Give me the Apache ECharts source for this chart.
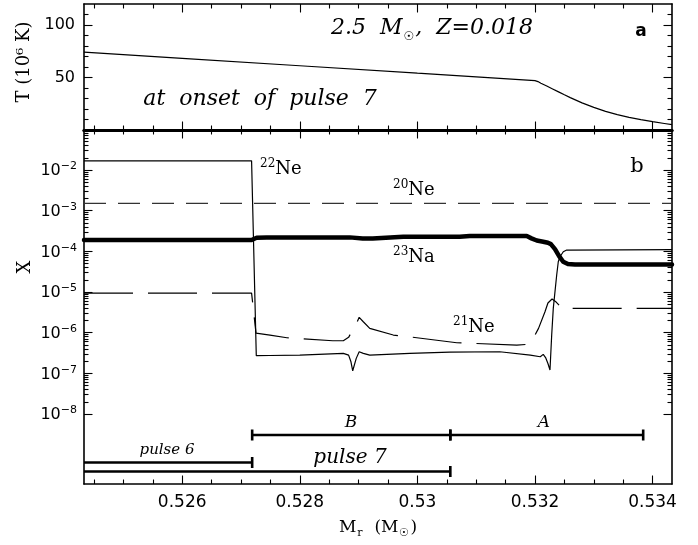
<!DOCTYPE html>
<html>
<head>
<meta charset="utf-8">
<script src="https://cdn.jsdelivr.net/npm/echarts@6.0.0/dist/echarts.min.js"></script>
<style>
html, body { margin: 0; padding: 0; background: #fff; }
#chart { width: 698px; height: 545px; }
</style>
</head>
<body>
<div id="chart"></div>
<script>
// Axis ranges
const massRange = [0.52433, 0.53433];
const tempRange = [0, 120];
const logXRange = [-9.72, -1.015];

// Tick positions
const massMajorTicks = [0.526, 0.528, 0.530, 0.532, 0.534];
const massMinorTicks = [0.5245, 0.525, 0.5255, 0.5265, 0.527, 0.5275, 0.5285, 0.529, 0.5295,
                        0.5305, 0.531, 0.5315, 0.5325, 0.533, 0.5335];
const tempMajorTicks = [50, 100];
const tempMinorTicks = [10, 20, 30, 40, 60, 70, 80, 90, 110];
const decadeExps = [-8, -7, -6, -5, -4, -3, -2];

// Panel a: temperature at the onset of pulse 7 (10^6 K)
const tMass = [0.52433, 0.5260, 0.5280, 0.5300, 0.5310, 0.5318, 0.5320, 0.53205, 0.5321, 0.5322,
               0.5323, 0.5324, 0.5325, 0.5326, 0.5328, 0.5330, 0.5332, 0.5334, 0.5336, 0.5338,
               0.5340, 0.5342, 0.53433];
const tValue = [74.1, 68.2, 61.2, 54.1, 50.6, 47.8, 47.0, 46.1, 44.6, 41.9,
                39.1, 36.3, 33.5, 30.8, 25.8, 21.5, 17.8, 14.6, 12.0, 9.8,
                7.9, 6.2, 5.1];

// Panel b: mass fractions
const ne22Mass = [0.52433, 0.52718, 0.52726, 0.52749, 0.52800, 0.52874, 0.52883, 0.52887, 0.52890,
                  0.52892, 0.52896, 0.52901, 0.52908, 0.52919, 0.52987, 0.53055, 0.53140, 0.53192,
                  0.53209, 0.53214, 0.53218, 0.53222, 0.532255, 0.532284, 0.532311, 0.532369,
                  0.532396, 0.532425, 0.532481, 0.532539, 0.53433];
const ne22X = [0.0169, 0.0169, 2.72e-7, 2.75e-7, 2.82e-7, 3.11e-7, 2.82e-7, 1.93e-7, 1.16e-7,
               1.21e-7, 2.34e-7, 3.40e-7, 3.11e-7, 2.82e-7, 3.11e-7, 3.35e-7, 3.40e-7, 2.82e-7,
               2.57e-7, 2.94e-7, 2.45e-7, 1.75e-7, 1.21e-7, 8.77e-7, 3.97e-6, 2.62e-5,
               5.56e-5, 7.38e-5, 9.8e-5, 1.08e-4, 1.10e-4];

const ne20Mass = [0.52433, 0.53433];
const ne20X = [1.52e-3, 1.52e-3];

const na23Mass = [0.52433, 0.52718, 0.527266, 0.527437, 0.52885, 0.52907, 0.52924, 0.52976, 0.53072,
                  0.53089, 0.53186, 0.53194, 0.53203, 0.53214, 0.53222, 0.53227, 0.53234, 0.53241,
                  0.53248, 0.53256, 0.53268, 0.53433];
const na23X = [1.90e-4, 1.90e-4, 2.16e-4, 2.21e-4, 2.21e-4, 2.07e-4, 2.08e-4, 2.29e-4, 2.29e-4,
               2.38e-4, 2.38e-4, 2.09e-4, 1.85e-4, 1.73e-4, 1.63e-4, 1.51e-4, 1.14e-4, 7.67e-5,
               5.56e-5, 4.89e-5, 4.74e-5, 4.74e-5];

const ne21Mass = [0.52433, 0.52718, 0.527255, 0.527493, 0.52778, 0.52856, 0.52874, 0.52883, 0.52889,
                  0.52896, 0.52901, 0.52908, 0.52919, 0.52959, 0.52985, 0.53067, 0.53169, 0.53188,
                  0.53195, 0.53206, 0.53217, 0.53222, 0.53229, 0.53236, 0.53246, 0.53433];
const ne21X = [9.44e-6, 9.44e-6, 9.77e-7, 8.77e-7, 7.53e-7, 6.35e-7, 6.35e-7, 7.7e-7, 1.1e-6,
               1.63e-6, 2.39e-6, 1.86e-6, 1.28e-6, 8.77e-7, 7.96e-7, 5.67e-7, 4.98e-7, 5.18e-7,
               6.41e-7, 1.28e-6, 3.28e-6, 5.37e-6, 6.73e-6, 5.68e-6, 3.97e-6, 3.97e-6];

// Mass intervals marked under panel b
const phaseNames = ['B', 'A', 'pulse 6', 'pulse 7'];
const phaseFrom = [0.52719, 0.53056, 0.5240, 0.5240];
const phaseTo = [0.53056, 0.53384, 0.52719, 0.53056];

// ---------------------------------------------------------------------------
const SANS = 'DejaVu Sans';
const SERIF = 'DejaVu Serif';
const INK = '#000';
const PLOT_LEFT = 84, PLOT_WIDTH = 588;
const TOP_Y = 4, MID_Y = 130, BOTTOM_Y = 484;

const logMinorTicks = [];
decadeExps.forEach(n => {
  for (let k = 2; k <= 9; k++) logMinorTicks.push(n + Math.log10(k));
});

function pairs(xs, ys, transform) {
  return xs.map((x, i) => [x, transform ? transform(ys[i]) : ys[i]]);
}

function tickAxis(base, opts) {
  return Object.assign({
    type: 'value',
    scale: true,
    splitLine: { show: false },
    axisLine: { show: opts.line > 0, onZero: false, lineStyle: { color: INK, width: opts.line || 1 } },
    axisTick: { show: true, inside: true, length: opts.len, customValues: opts.ticks,
                lineStyle: { color: INK, width: 1.1 } },
    axisLabel: { show: false }
  }, base);
}

const grids = [
  { left: PLOT_LEFT, width: PLOT_WIDTH, top: TOP_Y, height: MID_Y - TOP_Y },
  { left: PLOT_LEFT, width: PLOT_WIDTH, top: TOP_Y, height: MID_Y - TOP_Y },
  { left: PLOT_LEFT, width: PLOT_WIDTH, top: MID_Y, height: BOTTOM_Y - MID_Y },
  { left: PLOT_LEFT, width: PLOT_WIDTH, top: MID_Y, height: BOTTOM_Y - MID_Y }
];

const MAJ = 8.5, MIN = 4.5;
const massAxis = { min: massRange[0], max: massRange[1] };
const xAxes = [
  tickAxis(Object.assign({ gridIndex: 0, position: 'bottom' }, massAxis), { ticks: massMajorTicks, len: MAJ, line: 3 }),
  tickAxis(Object.assign({ gridIndex: 0, position: 'top' }, massAxis), { ticks: massMajorTicks, len: MAJ, line: 1.6 }),
  tickAxis(Object.assign({ gridIndex: 1, position: 'bottom' }, massAxis), { ticks: massMinorTicks, len: MIN, line: 0 }),
  tickAxis(Object.assign({ gridIndex: 1, position: 'top' }, massAxis), { ticks: massMinorTicks, len: MIN, line: 0 }),
  tickAxis(Object.assign({ gridIndex: 2, position: 'bottom' }, massAxis), { ticks: massMajorTicks, len: MAJ, line: 1.6 }),
  tickAxis(Object.assign({ gridIndex: 2, position: 'top' }, massAxis), { ticks: massMajorTicks, len: MAJ, line: 3 }),
  tickAxis(Object.assign({ gridIndex: 3, position: 'bottom' }, massAxis), { ticks: massMinorTicks, len: MIN, line: 0 }),
  tickAxis(Object.assign({ gridIndex: 3, position: 'top' }, massAxis), { ticks: massMinorTicks, len: MIN, line: 0 })
];
xAxes[4].axisLabel = {
  show: true, customValues: massMajorTicks, margin: 10, color: INK,
  fontFamily: SANS, fontSize: 17,
  formatter: v => String(+v.toFixed(3))
};

const tempAxis = { min: tempRange[0], max: tempRange[1] };
const logAxis = { min: logXRange[0], max: logXRange[1] };
const yAxes = [
  tickAxis(Object.assign({ gridIndex: 0, position: 'left' }, tempAxis), { ticks: tempMajorTicks, len: MAJ, line: 1.6 }),
  tickAxis(Object.assign({ gridIndex: 0, position: 'right' }, tempAxis), { ticks: tempMajorTicks, len: MAJ, line: 1.6 }),
  tickAxis(Object.assign({ gridIndex: 1, position: 'left' }, tempAxis), { ticks: tempMinorTicks, len: MIN, line: 0 }),
  tickAxis(Object.assign({ gridIndex: 1, position: 'right' }, tempAxis), { ticks: tempMinorTicks, len: MIN, line: 0 }),
  tickAxis(Object.assign({ gridIndex: 2, position: 'left' }, logAxis), { ticks: decadeExps, len: MAJ, line: 1.6 }),
  tickAxis(Object.assign({ gridIndex: 2, position: 'right' }, logAxis), { ticks: decadeExps, len: MAJ, line: 1.6 }),
  tickAxis(Object.assign({ gridIndex: 3, position: 'left' }, logAxis), { ticks: logMinorTicks, len: MIN, line: 0 }),
  tickAxis(Object.assign({ gridIndex: 3, position: 'right' }, logAxis), { ticks: logMinorTicks, len: MIN, line: 0 })
];
yAxes[0].axisLabel = {
  show: true, customValues: tempMajorTicks, margin: 9, color: INK,
  fontFamily: SANS, fontSize: 16
};
yAxes[4].axisLabel = {
  show: true, customValues: decadeExps, margin: 7, color: INK,
  formatter: v => '{b|10}{s|\u2212' + Math.abs(Math.round(v)) + '}',
  rich: {
    b: { fontFamily: SANS, fontSize: 16, lineHeight: 18, verticalAlign: 'bottom', color: INK },
    s: { fontFamily: SANS, fontSize: 11, lineHeight: 12, verticalAlign: 'top', color: INK }
  }
};

const log10 = v => Math.log10(v);
const thin = { color: INK, width: 1.2 };

function lineSeries(name, data, style, xi, yi) {
  return {
    name, type: 'line', xAxisIndex: xi, yAxisIndex: yi, data,
    showSymbol: false, symbol: 'none', smooth: false, silent: true,
    lineStyle: style, z: 5, animation: false
  };
}

// Interval bars with end caps, clipped to the plot frame
const ROW_OFFSET = [49, 49, 21.5, 12.5];
function renderPhase(params, api) {
  const i = params.dataIndex;
  const cs = params.coordSys;
  const left = cs.x, right = cs.x + cs.width;
  const y = cs.y + cs.height - ROW_OFFSET[i];
  const x0 = api.coord([api.value(0), logXRange[0]])[0];
  const x1 = api.coord([api.value(1), logXRange[0]])[0];
  const st = { stroke: INK, lineWidth: 2.6 };
  const children = [{
    type: 'line',
    shape: { x1: Math.max(x0, left), y1: y, x2: Math.min(x1, right), y2: y },
    style: st
  }];
  [x0, x1].forEach(x => {
    if (x >= left - 0.5 && x <= right + 0.5) {
      children.push({ type: 'line', shape: { x1: x, y1: y - 5.5, x2: x, y2: y + 5.5 }, style: st });
    }
  });
  return { type: 'group', children };
}

const series = [
  lineSeries('T', pairs(tMass, tValue), thin, 0, 0),
  lineSeries('20Ne', pairs(ne20Mass, ne20X, log10), { color: '#333', width: 1.3, type: [22, 12] }, 4, 4),
  lineSeries('21Ne', pairs(ne21Mass, ne21X, log10), { color: INK, width: 1.2, type: [49, 15] }, 4, 4),
  lineSeries('22Ne', pairs(ne22Mass, ne22X, log10), thin, 4, 4),
  lineSeries('23Na', pairs(na23Mass, na23X, log10), { color: INK, width: 4.5, cap: 'round', join: 'round' }, 4, 4),
  {
    type: 'custom', name: 'phases', xAxisIndex: 4, yAxisIndex: 4,
    renderItem: renderPhase, silent: true, animation: false,
    encode: { x: [0, 1] },
    data: phaseFrom.map((f, i) => [f, phaseTo[i]]),
    z: 6
  }
];

// Text annotations
function txt(x, y, text, font, extra) {
  return Object.assign({
    type: 'text', x, y, silent: true, z: 20,
    style: Object.assign({
      text, fill: INK, font,
      align: 'center', verticalAlign: 'middle',
      textAlign: 'center', textVerticalAlign: 'middle'
    }, extra || {})
  });
}
function isotope(x, y, mass, sym) {
  return {
    type: 'text', x, y, silent: true, z: 20,
    style: {
      text: '{s|' + mass + '}{n|' + sym + '}',
      align: 'left', verticalAlign: 'middle', textAlign: 'left', textVerticalAlign: 'middle',
      rich: {
        s: { fontFamily: SERIF, fontSize: 12, lineHeight: 13, verticalAlign: 'top', fill: INK, color: INK },
        n: { fontFamily: SERIF, fontSize: 18, lineHeight: 20, verticalAlign: 'bottom', fill: INK, color: INK }
      }
    }
  };
}

const ital = (size) => 'italic ' + size + 'px "' + SERIF + '"';
const graphics = [
  {
    type: 'text', x: 432, y: 30, silent: true, z: 20,
    style: {
      text: '{i|2.5  M}{sub|\u2609}{i|,  Z=0.018}',
      align: 'center', verticalAlign: 'middle', textAlign: 'center', textVerticalAlign: 'middle',
      rich: {
        i: { fontFamily: SERIF, fontStyle: 'italic', fontSize: 22, lineHeight: 25, verticalAlign: 'top', fill: INK, color: INK },
        sub: { fontFamily: SANS, fontSize: 12, lineHeight: 13, verticalAlign: 'bottom', padding: [0, 1, 0, 1], fill: INK, color: INK }
      }
    }
  },
  txt(260, 99, 'at  onset  of  pulse  7', ital(22)),
  txt(641, 32, 'a', 'bold 17px "' + SANS + '"'),
  txt(637, 167, 'b', '21px "' + SERIF + '"'),
  isotope(260, 168, '22', 'Ne'),
  isotope(393, 189, '20', 'Ne'),
  isotope(393, 256, '23', 'Na'),
  isotope(453, 326, '21', 'Ne'),
  txt(351, 423, phaseNames[0], ital(17)),
  txt(544, 423, phaseNames[1], ital(17)),
  txt(167, 450, phaseNames[2], ital(15)),
  txt(350, 458, phaseNames[3], ital(20)),
  Object.assign(txt(24, 62, 'T (10\u2076 K)', '18px "' + SERIF + '"'), { rotation: Math.PI / 2 }),
  Object.assign(txt(25, 267, 'X', '18px "' + SERIF + '"'), { rotation: Math.PI / 2 }),
  {
    type: 'text', x: 378, y: 529, silent: true, z: 20,
    style: {
      text: '{m|M}{r|r}{m|  (M}{r|\u2609}{m|)}',
      align: 'center', verticalAlign: 'middle', textAlign: 'center', textVerticalAlign: 'middle',
      rich: {
        m: { fontFamily: SERIF, fontSize: 17, lineHeight: 20, verticalAlign: 'top', fill: INK, color: INK },
        r: { fontFamily: SERIF, fontSize: 11, lineHeight: 12, verticalAlign: 'bottom', padding: [0, 1, 0, 1], fill: INK, color: INK }
      }
    }
  }
];

const chart = echarts.init(document.getElementById('chart'), null, { renderer: 'canvas' });
chart.setOption({
  backgroundColor: '#fff',
  animation: false,
  grid: grids,
  xAxis: xAxes,
  yAxis: yAxes,
  series,
  graphic: graphics
});
</script>
</body>
</html>
